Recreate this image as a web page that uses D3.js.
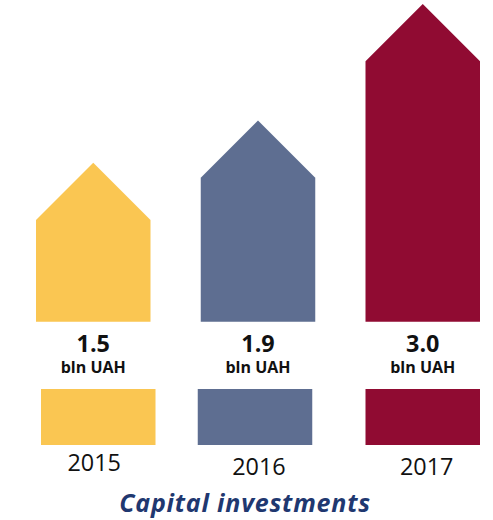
<!DOCTYPE html>
<html>
<head>
<meta charset="utf-8">
<script src="https://cdn.jsdelivr.net/npm/d3@7"></script>
<style>
  html, body { margin: 0; padding: 0; background: #ffffff; }
  svg { display: block; }
</style>
</head>
<body>
<svg id="chart" width="493" height="520"></svg>
<script>
// ---- data ----
const years = ["2015", "2016", "2017"];
const values = [1.5, 1.9, 3.0];
const valueLabels = ["1.5", "1.9", "3.0"];
const unitLabel = "bln UAH";
const colors = ["#FAC652", "#5E6E91", "#900B32"];
const title = "Capital investments";

// ---- layout ----
const W = 493, H = 520;
const svg = d3.select("#chart");

const x = d3.scaleBand()
  .domain(years)
  .range([36, 480])
  .paddingInner(0.305)
  .paddingOuter(0);

const baseY = 321.7;
const y = d3.scaleLinear()
  .domain([0, d3.max(values)])
  .range([baseY, 4]);

const color = d3.scaleOrdinal().domain(years).range(colors);

const data = years.map((yr, i) => ({ year: yr, value: values[i], label: valueLabels[i] }));

const line = d3.line();
function arrowPoints(d) {
  const x0 = x(d.year), bw = x.bandwidth(), x1 = x0 + bw;
  const top = y(d.value);
  const head = bw / 2;
  return [
    [x0, baseY],
    [x0, top + head],
    [x0 + bw / 2, top],
    [x1, top + head],
    [x1, baseY]
  ];
}

svg.append("g").selectAll("path")
  .data(data)
  .join("path")
  .attr("d", d => line(arrowPoints(d)) + "Z")
  .attr("fill", d => color(d.year));

const font = "'Open Sans', 'Noto Sans', sans-serif";

// value labels
svg.append("g").selectAll("text")
  .data(data)
  .join("text")
  .attr("x", d => x(d.year) + x.bandwidth() / 2)
  .attr("y", 351.5)
  .attr("text-anchor", "middle")
  .attr("font-family", font)
  .attr("font-weight", 700)
  .attr("font-size", 23.4)
  .attr("fill", "#111111")
  .text(d => d.label);

svg.append("g").selectAll("text")
  .data(data)
  .join("text")
  .attr("x", d => x(d.year) + x.bandwidth() / 2)
  .attr("y", 373)
  .attr("text-anchor", "middle")
  .attr("font-family", font)
  .attr("font-weight", 700)
  .attr("font-size", 16)
  .attr("fill", "#111111")
  .text(unitLabel);

// legend boxes
const legY = d3.scaleLinear().domain([0, 1]).range([389, 445]);
const legShift = [5, -3, 0];
svg.append("g").selectAll("rect")
  .data(data)
  .join("rect")
  .attr("x", (d, i) => x(d.year) + legShift[i])
  .attr("y", legY(0))
  .attr("width", x.bandwidth())
  .attr("height", legY(1) - legY(0))
  .attr("fill", d => color(d.year));

svg.append("g").selectAll("text")
  .data(data)
  .join("text")
  .attr("x", (d, i) => x(d.year) + x.bandwidth() / 2 + [1, 1, 4][i])
  .attr("y", (d, i) => i === 0 ? 471 : 475)
  .attr("text-anchor", "middle")
  .attr("font-family", font)
  .attr("font-weight", 400)
  .attr("font-size", 23.4)
  .attr("fill", "#111111")
  .text(d => d.year);

// title
svg.append("text")
  .attr("x", 245)
  .attr("y", 511.7)
  .attr("text-anchor", "middle")
  .attr("font-family", font)
  .attr("font-weight", 700)
  .attr("font-style", "italic")
  .attr("font-size", 25)
  .attr("letter-spacing", 0.8)
  .attr("fill", "#1F3870")
  .text(title);
</script>
</body>
</html>
